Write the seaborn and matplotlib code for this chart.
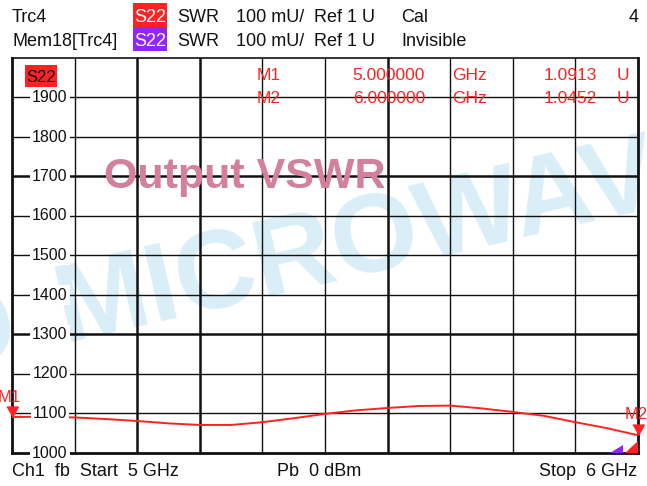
import numpy as np
import matplotlib.pyplot as plt
import matplotlib.transforms as mtransforms
from matplotlib.patches import Rectangle, Polygon
import pandas as pd
import seaborn as sns

# trace S22 SWR (values in mU, 1000 = 1.000 U)
freq = [5.00, 5.05, 5.10, 5.15, 5.20, 5.25, 5.30, 5.35, 5.40, 5.45, 5.50,
        5.55, 5.60, 5.65, 5.70, 5.75, 5.80, 5.85, 5.90, 5.95, 6.00]
swr = [1091, 1092, 1090, 1086, 1081, 1075, 1071, 1071, 1078, 1088, 1099,
       1108, 1114, 1119, 1120, 1113, 1104, 1094, 1078, 1063, 1045]
mk_names = ["M1", "M2"]
mk_freq = [5.0, 6.0]
mk_val = [1091.3, 1045.2]
mk_freq_txt = ["5.000000", "6.000000"]
mk_val_txt = ["1.0913", "1.0452"]
ytick_vals = [1000, 1100, 1200, 1300, 1400, 1500, 1600, 1700, 1800, 1900]

sns.set_style("white")
plt.rcParams['font.family'] = ['Liberation Sans', 'DejaVu Sans']

W, H = 647, 486
RED = "#ff2222"
PURPLE = "#9124ff"

fig = plt.figure(figsize=(6.47, 4.86), dpi=100)
fig.patch.set_facecolor("white")


def px(x, y):
    return x / W, 1 - y / H


# watermark behind everything
fig.text(*px(64, 342), "MICROWAVE", color="#d9eef7", fontsize=80, fontweight="bold",
         rotation=13, rotation_mode="anchor", ha="left", va="baseline", zorder=-5)
fig.text(*px(22, 354), "D", color="#d9eef7", fontsize=80, fontweight="bold",
         rotation=13, rotation_mode="anchor", ha="right", va="baseline", zorder=-5)

ax = fig.add_axes([12 / W, 1 - 453 / H, 626 / W, 395 / H])
ax.patch.set_alpha(0)

df = pd.DataFrame({"f": freq, "swr": swr})
sns.lineplot(data=df, x="f", y="swr", ax=ax, color=RED, lw=1.4, zorder=5)
ax.set_xlim(5, 6)
ax.set_ylim(1000, 2000)
ax.set_xticks([])
ax.set_yticks([])
ax.set_xlabel("")
ax.set_ylabel("")

# graticule
thick_v = [5.2, 5.3, 5.6]
for xv in np.round(np.arange(5.1, 5.95, 0.1), 2):
    ax.axvline(xv, color="#111111", lw=1.8 if xv in thick_v else 1.0, zorder=1)
for yv in ytick_vals[1:]:
    ax.axhline(yv, color="#111111", lw=1.8 if yv in (1300, 1700) else 1.0, zorder=1)
for side in ["left", "right", "bottom"]:
    ax.spines[side].set_linewidth(2.0)
    ax.spines[side].set_color("#111111")
ax.spines["top"].set_linewidth(1.2)
ax.spines["top"].set_color("#111111")

# y labels sitting on the grid lines
tr = mtransforms.blended_transform_factory(ax.transAxes, ax.transData)
for yv in ytick_vals:
    ax.text(0.0607, yv, str(yv), transform=tr, ha="center", va="center",
            fontsize=11.5, color="#111111", zorder=6,
            bbox=dict(facecolor="white", edgecolor="none", pad=1.5))

# markers
tri = [(-0.55, 1.0), (0.55, 1.0), (0.0, 0.0)]
ax.plot(mk_freq, mk_val, ls="none", marker=tri, ms=15, color=RED,
        clip_on=False, zorder=7)
ax.text(*px(9, 402), "M1", transform=fig.transFigure, color=RED, fontsize=12,
        ha="center", va="baseline")
ax.text(*px(625, 419), "M2", transform=fig.transFigure, color=RED, fontsize=12,
        ha="left", va="baseline")

# S22 label in the diagram
fig.patches.append(Rectangle(px(25, 87), 32 / W, 22 / H, transform=fig.transFigure,
                             facecolor=RED, edgecolor="none", zorder=8))
fig.text(*px(41, 82), "S22", color="#111111", fontsize=12, ha="center",
         va="baseline", zorder=9)

# marker table
rows_y = [80, 103]
for name, ft, vt, yb in zip(mk_names, mk_freq_txt, mk_val_txt, rows_y):
    fig.text(*px(257, yb), name, color=RED, fontsize=12.5, va="baseline", zorder=9)
    fig.text(*px(425, yb), ft, color=RED, fontsize=12.5, ha="right", va="baseline", zorder=9)
    fig.text(*px(452, yb), "GHz", color=RED, fontsize=12.5, va="baseline", zorder=9)
    fig.text(*px(597, yb), vt, color=RED, fontsize=12.5, ha="right", va="baseline", zorder=9)
    fig.text(*px(617, yb), "U", color=RED, fontsize=12.5, va="baseline", zorder=9)

# bottom-right reference arrows
fig.patches.append(Polygon([px(610, 453), px(623, 453), px(623, 445)], closed=True,
                           transform=fig.transFigure, facecolor=PURPLE,
                           edgecolor="none", zorder=8))
fig.patches.append(Polygon([px(625, 453), px(638, 453), px(638, 441)], closed=True,
                           transform=fig.transFigure, facecolor=RED,
                           edgecolor="none", zorder=8))

# header
hdr = dict(fontsize=13, color="#111111", va="baseline")
for yb, name, boxc, state in [(22, "Trc4", RED, "Cal"), (46, "Mem18[Trc4]", PURPLE, "Invisible")]:
    fig.text(*px(12, yb), name, **hdr)
    fig.patches.append(Rectangle(px(133, yb + 5), 34 / W, 24 / H, transform=fig.transFigure,
                                 facecolor=boxc, edgecolor="none"))
    fig.text(*px(150, yb), "S22", fontsize=13, color="white", ha="center", va="baseline")
    fig.text(*px(177, yb), "SWR", **hdr)
    fig.text(*px(236, yb), "100 mU/", **hdr)
    fig.text(*px(314, yb), "Ref 1 U", **hdr)
    fig.text(*px(401, yb), state, **hdr)
fig.text(*px(639, 22), "4", ha="right", **hdr)

# footer
fig.text(*px(12, 476), "Ch1  fb  Start  5 GHz", **hdr)
fig.text(*px(277, 476), "Pb  0 dBm", **hdr)
fig.text(*px(637, 476), "Stop  6 GHz", ha="right", **hdr)

# title
fig.text(*px(104, 188), "Output VSWR", color="#d4809c", fontsize=31,
         fontweight="bold", va="baseline", zorder=10)

fig.savefig("out.png", dpi=100)
